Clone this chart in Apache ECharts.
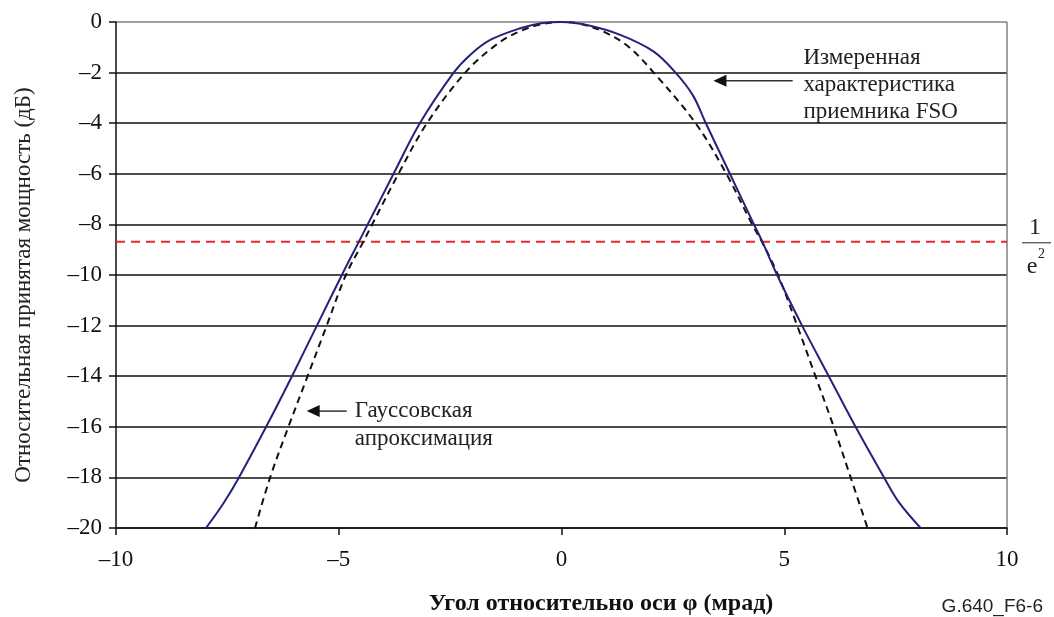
<!DOCTYPE html>
<html><head><meta charset="utf-8">
<script src="https://cdn.jsdelivr.net/npm/echarts@6/dist/echarts.min.js"></script>
<style>html,body{margin:0;padding:0;background:#fff}#c{width:1054px;height:617px}</style>
</head><body><div id="c"></div>
<script>
// Tick values
const xTicks = [-10, -5, 0, 5, 10];
const yTicks = [0, -2, -4, -6, -8, -10, -12, -14, -16, -18, -20];
// Measured FSO receiver characteristic (angle mrad, dB)
const measured = [
  [-7.98,-20],[-7.58,-19],[-7.24,-18],[-6.63,-16],[-6.05,-14],[-5.49,-12],[-4.93,-10],
  [-4.55,-8.69],[-4.35,-8],[-4.06,-7],[-3.77,-6],[-3.18,-4],[-2.42,-2],[-2.05,-1.3],
  [-1.60,-0.71],[-0.93,-0.25],[-0.45,-0.05],[0,0],[0.57,-0.12],[1.32,-0.51],[2.07,-1.17],
  [2.56,-2],[2.95,-2.9],[3.24,-4],[3.78,-6],[4.32,-8],[4.51,-8.69],[4.84,-10],[5.40,-12],
  [6.00,-14],[6.60,-16],[7.24,-18],[7.58,-19],[8.06,-20]
];
// Gaussian approximation (angle mrad, dB)
const gaussian = [
  [-6.88,-20],[-6.54,-18],[-6.13,-16],[-5.70,-14],[-5.27,-12],[-4.84,-10],[-4.45,-8.69],
  [-4.25,-8],[-3.66,-6],[-3.02,-4],[-2.16,-2],[-1.45,-0.88],[-0.93,-0.36],[-0.45,-0.09],
  [0,0],[0.50,-0.11],[1.00,-0.43],[1.50,-0.97],[2.07,-2],[3.01,-4],[3.70,-6],[4.28,-8],
  [4.50,-8.69],[4.86,-10],[5.29,-12],[5.70,-14],[6.11,-16],[6.49,-18],[6.87,-20]
];
// 1/e^2 level
const levelE2 = [[-10,-8.686],[10,-8.686]];
// Annotations (data coordinates)
const noteMeasuredText = ['Измеренная', 'характеристика', 'приемника FSO'];
const noteMeasuredPos = [5.43, -1.42];
const arrowMeasured = [[5.19,-2.32],[3.41,-2.32]];
const noteGaussText = ['Гауссовская', 'апроксимация'];
const noteGaussPos = [-4.64, -15.38];
const arrowGauss = [[-4.82,-15.38],[-5.72,-15.38]];
const yName = 'Относительная принятая мощность (дБ)';
const xName = 'Угол относительно оси φ (мрад)';
const figId = 'G.640_F6-6';

const serif = '"Liberation Serif","Times New Roman",serif';
const minus = v => String(v).replace('-', '\u2013');

const chart = echarts.init(document.getElementById('c'), null, {renderer:'canvas'});
const ySplitColors = yTicks.slice().reverse().map(v => v === 0 ? '#7f7f7f' : '#111');
const xSplitColors = xTicks.map(v => v === 10 ? '#7f7f7f' : 'rgba(0,0,0,0)');

chart.setOption({
  animation: false,
  backgroundColor: '#fff',
  grid: {left: 116, right: 47, top: 22, bottom: 89, containLabel: false},
  xAxis: {
    type: 'value', min: -10, max: 10, interval: 5,
    axisLine: {show: true, onZero: false, lineStyle: {color: '#111', width: 1.5}},
    axisTick: {show: true, inside: false, length: 7, lineStyle: {color: '#111', width: 1.5}},
    axisLabel: {fontFamily: serif, fontSize: 23, color: '#111', margin: 20, formatter: minus},
    splitLine: {show: true, lineStyle: {color: xSplitColors, width: 1.5}}
  },
  yAxis: {
    type: 'value', min: -20, max: 0, interval: 2,
    axisLine: {show: true, onZero: false, lineStyle: {color: '#111', width: 1.5}},
    axisTick: {show: true, inside: false, length: 7, lineStyle: {color: '#111', width: 1.5}},
    axisLabel: {fontFamily: serif, fontSize: 23, color: '#111', margin: 14, formatter: minus},
    splitLine: {show: true, lineStyle: {color: ySplitColors, width: 1.5}}
  },
  series: [
    {type: 'line', name: 'e2', data: levelE2, symbol: 'none', z: 2,
     lineStyle: {color: '#e8282a', width: 2, type: [9, 6]}},
    {type: 'line', name: 'Гауссовская апроксимация', data: gaussian, symbol: 'none',
     smooth: 0.35, z: 3,
     lineStyle: {color: '#111', width: 2, type: [7, 5]}},
    {type: 'line', name: 'Измеренная характеристика', data: measured, symbol: 'none',
     smooth: 0.35, z: 4,
     lineStyle: {color: '#23237e', width: 2}}
  ]
});

function arrow(a) {
  const p1 = chart.convertToPixel({gridIndex: 0}, a[0]);
  const p2 = chart.convertToPixel({gridIndex: 0}, a[1]);
  return [
    {type: 'line', shape: {x1: p1[0], y1: p1[1], x2: p2[0] + 10, y2: p2[1]},
     style: {stroke: '#333', lineWidth: 1.5}, z: 10},
    {type: 'polygon', shape: {points: [[p2[0], p2[1]], [p2[0] + 13, p2[1] - 6], [p2[0] + 13, p2[1] + 6]]},
     style: {fill: '#111'}, z: 10}
  ];
}
function note(lines, pos, lh) {
  const p = chart.convertToPixel({gridIndex: 0}, pos);
  return {type: 'text', x: p[0], y: p[1] - lh / 2, z: 10,
    style: {text: lines.join('\n'), font: '23px ' + serif, fill: '#222', lineHeight: lh,
      textAlign: 'left', textVerticalAlign: 'top'}};
}
const gr = chart.convertToPixel({gridIndex: 0}, [10, -8.686]);
chart.setOption({
  graphic: [
    ...arrow(arrowMeasured), ...arrow(arrowGauss),
    note(noteMeasuredText, noteMeasuredPos, 27),
    note(noteGaussText, noteGaussPos, 28),
    {type: 'text', x: 24, y: 285, rotation: Math.PI / 2, z: 10,
     style: {text: yName, font: '23px ' + serif, fill: '#222', textAlign: 'center', textVerticalAlign: 'middle'}},
    {type: 'text', x: 601, y: 604, z: 10,
     style: {text: xName, font: 'bold 24px ' + serif, fill: '#111', textAlign: 'center', textVerticalAlign: 'middle'}},
    {type: 'text', x: 1043, y: 607, z: 10,
     style: {text: figId, font: '19px "Liberation Sans",Arial,sans-serif', fill: '#222', textAlign: 'right', textVerticalAlign: 'middle'}},
    {type: 'text', x: gr[0] + 28, y: gr[1] - 2, z: 10,
     style: {text: '1', font: '24px ' + serif, fill: '#222', textAlign: 'center', textVerticalAlign: 'bottom'}},
    {type: 'line', shape: {x1: gr[0] + 15, y1: gr[1] + 1, x2: gr[0] + 44, y2: gr[1] + 1}, style: {stroke: '#444', lineWidth: 1.2}},
    {type: 'text', x: gr[0] + 25, y: gr[1] + 13, z: 10,
     style: {text: 'e', font: '24px ' + serif, fill: '#222', textAlign: 'center', textVerticalAlign: 'top'}},
    {type: 'text', x: gr[0] + 31, y: gr[1] + 6, z: 10,
     style: {text: '2', font: '14px ' + serif, fill: '#222', textAlign: 'left', textVerticalAlign: 'top'}}
  ]
});
</script>
</body></html>
